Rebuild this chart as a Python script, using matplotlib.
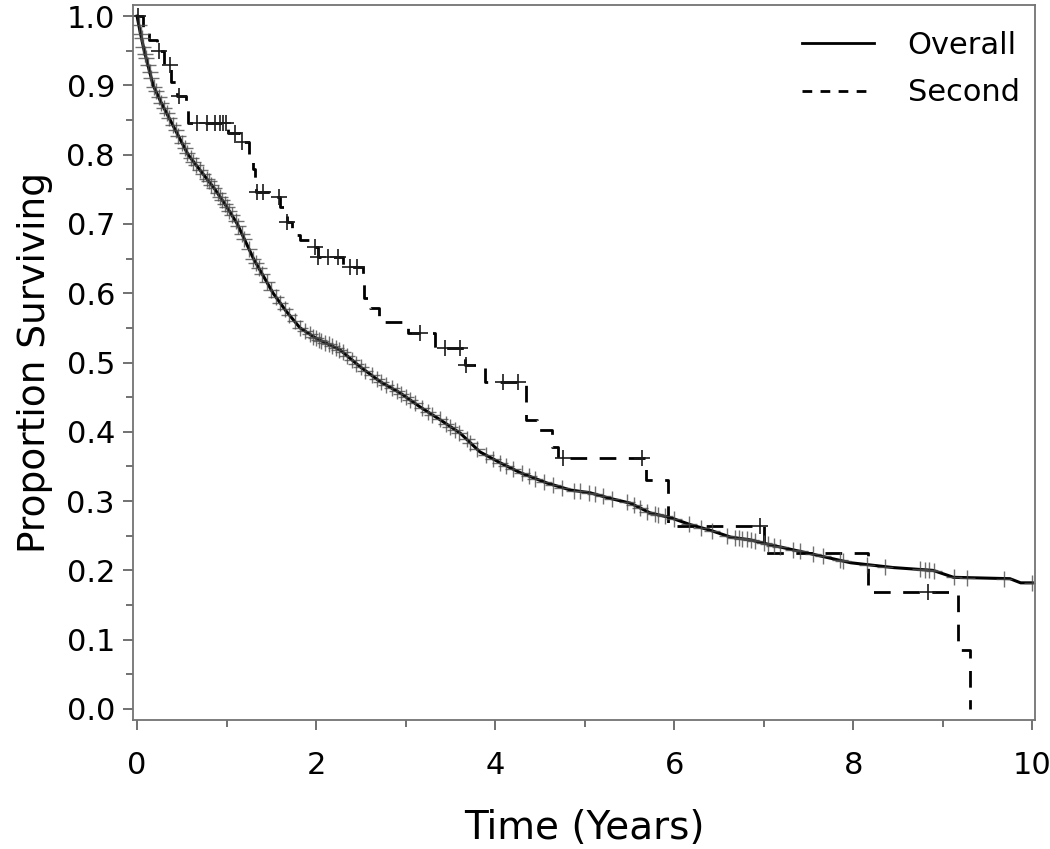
import numpy as np
import matplotlib
matplotlib.use("Agg")
import matplotlib.pyplot as plt
from matplotlib.lines import Line2D

# overall curve
overall_t = [0.0, 0.03, 0.08, 0.18, 0.27, 0.37, 0.47, 0.57, 0.72, 0.87, 1.0, 1.12,
             1.21, 1.30, 1.41, 1.52, 1.66, 1.82, 2.0, 2.27, 2.49, 2.72, 2.94, 3.16,
             3.39, 3.61, 3.83, 4.06, 4.28, 4.58, 4.84, 5.06, 5.28, 5.51, 5.73, 5.96,
             6.18, 6.40, 6.63, 6.85, 7.07, 7.49, 7.97, 8.45, 8.89, 9.12, 9.75, 9.87, 10.0]
overall_s = [1.0, 0.98, 0.95, 0.90, 0.875, 0.85, 0.825, 0.80, 0.775, 0.75, 0.725, 0.70,
             0.675, 0.65, 0.625, 0.60, 0.575, 0.55, 0.535, 0.518, 0.494, 0.472, 0.456, 0.436,
             0.417, 0.398, 0.371, 0.355, 0.341, 0.326, 0.316, 0.312, 0.304, 0.297, 0.283, 0.276,
             0.266, 0.258, 0.248, 0.244, 0.237, 0.225, 0.211, 0.204, 0.200, 0.190, 0.188, 0.182, 0.182]
overall_cens = [0.02, 0.04, 0.05, 0.07, 0.09, 0.1, 0.12, 0.14, 0.16, 0.19, 0.21, 0.24, 0.27,
                0.3, 0.33, 0.36, 0.4, 0.43, 0.46, 0.5, 0.53, 0.56, 0.6, 0.63, 0.66, 0.7, 0.74,
                0.78, 0.8, 0.83, 0.86, 0.9, 0.93, 0.95, 0.98, 1.0, 1.03, 1.06, 1.1, 1.13, 1.17,
                1.2, 1.25, 1.3, 1.33, 1.36, 1.4, 1.45, 1.5, 1.55, 1.6, 1.65, 1.7, 1.76, 1.82,
                1.88, 1.93, 1.97, 2.0, 2.03, 2.06, 2.1, 2.14, 2.18, 2.22, 2.26, 2.3, 2.35, 2.4,
                2.45, 2.5, 2.55, 2.62, 2.68, 2.72, 2.78, 2.85, 2.9, 2.95, 3.0, 3.05, 3.1, 3.18,
                3.25, 3.3, 3.38, 3.45, 3.5, 3.55, 3.6, 3.68, 3.72, 3.8, 3.9, 3.98, 4.05, 4.12,
                4.2, 4.3, 4.38, 4.45, 4.55, 4.65, 4.75, 4.88, 4.95, 5.05, 5.12, 5.2, 5.3, 5.47,
                5.55, 5.62, 5.7, 5.78, 5.82, 5.9, 6.0, 6.16, 6.3, 6.42, 6.59, 6.68, 6.72, 6.76,
                6.81, 6.86, 6.9, 7.0, 7.05, 7.12, 7.18, 7.33, 7.4, 7.55, 7.66, 7.85, 7.89, 8.15,
                8.36, 8.75, 8.8, 8.85, 8.9, 9.12, 9.27, 9.68, 10.0]

# second curve (step function)
second_t = [0.0, 0.07, 0.13, 0.22, 0.30, 0.38, 0.45, 0.55, 0.57, 1.02, 1.15, 1.25, 1.30,
            1.32, 1.33, 1.48, 1.60, 1.67, 1.73, 1.82, 1.93, 2.02, 2.30, 2.52, 2.54, 2.60,
            2.70, 3.03, 3.33, 3.66, 3.89, 4.34, 4.47, 4.64, 4.70, 5.68, 5.93, 7.0, 8.17,
            9.17, 9.30]
second_s = [1.0, 0.985, 0.965, 0.95, 0.93, 0.905, 0.885, 0.865, 0.846, 0.831, 0.818, 0.80,
            0.78, 0.762, 0.746, 0.739, 0.724, 0.703, 0.684, 0.677, 0.667, 0.652, 0.638, 0.616,
            0.593, 0.579, 0.558, 0.543, 0.521, 0.496, 0.472, 0.417, 0.403, 0.378, 0.362,
            0.330, 0.264, 0.225, 0.169, 0.085, 0.0]
second_cens = [0.01, 0.24, 0.37, 0.47, 0.67, 0.78, 0.87, 0.93, 0.96, 0.99, 1.09, 1.17,
               1.34, 1.41, 1.58, 1.67, 1.99, 2.02, 2.13, 2.25, 2.38, 2.46, 3.16, 3.44,
               3.61, 3.67, 4.09, 4.25, 4.76, 5.64, 6.96, 8.83]

labels = ["Overall", "Second"]


def step_value(times, surv, at):
    idx = np.searchsorted(times, at, side="right") - 1
    return np.asarray(surv)[idx]


plt.rcParams["font.family"] = "DejaVu Sans"
fig = plt.figure(figsize=(10.5, 8.49), dpi=100)
ax = fig.add_axes([0.1267, 0.152, 0.859, 0.842])

ax.plot(overall_t, overall_s, color="black", lw=2.2)
ax.plot(second_t, second_s, color="black", lw=2.0, drawstyle="steps-post",
        dashes=(6, 4.5))

oc = np.array(overall_cens)
ax.plot(oc, np.interp(oc, overall_t, overall_s), ls="none", marker="+",
        ms=11, mew=1.0, color="0.3", alpha=0.8)
sc = np.array(second_cens)
ax.plot(sc, step_value(second_t, second_s, sc), ls="none", marker="+",
        ms=12, mew=1.2, color="0.1")

ax.set_xlim(-0.045, 10.03)
ax.set_ylim(-0.0159, 1.0159)
ax.set_xticks([0, 2, 4, 6, 8, 10])
ax.set_xticks([1, 3, 5, 7, 9], minor=True)
ax.set_yticks(np.round(np.arange(0, 1.01, 0.1), 1))
ax.set_yticks(np.arange(0.05, 1.0, 0.1), minor=True)
ax.set_yticklabels([f"{v:.1f}" for v in np.arange(0, 1.01, 0.1)])

for sp in ax.spines.values():
    sp.set_color("0.45")
    sp.set_linewidth(1.3)
ax.tick_params(which="major", length=7, width=1.2, color="0.35", labelsize=22)
ax.tick_params(axis="x", which="major", pad=15)
ax.tick_params(axis="y", which="major", pad=6)
ax.tick_params(which="minor", length=5, width=1.2, color="0.35")

ax.set_xlabel("Time (Years)", fontsize=28, labelpad=21)
ax.set_ylabel("Proportion Surviving", fontsize=27, labelpad=10)

handles = [Line2D([], [], color="black", lw=2.0),
           Line2D([], [], color="black", lw=2.0, dashes=(3.5, 3))]
leg = ax.legend(handles, labels, loc="upper right", bbox_to_anchor=(1.0, 0.985),
                frameon=False, fontsize=22, handlelength=2.35, handletextpad=1.1,
                labelspacing=0.6, borderaxespad=0.1)

fig.savefig("out.png", dpi=100)
